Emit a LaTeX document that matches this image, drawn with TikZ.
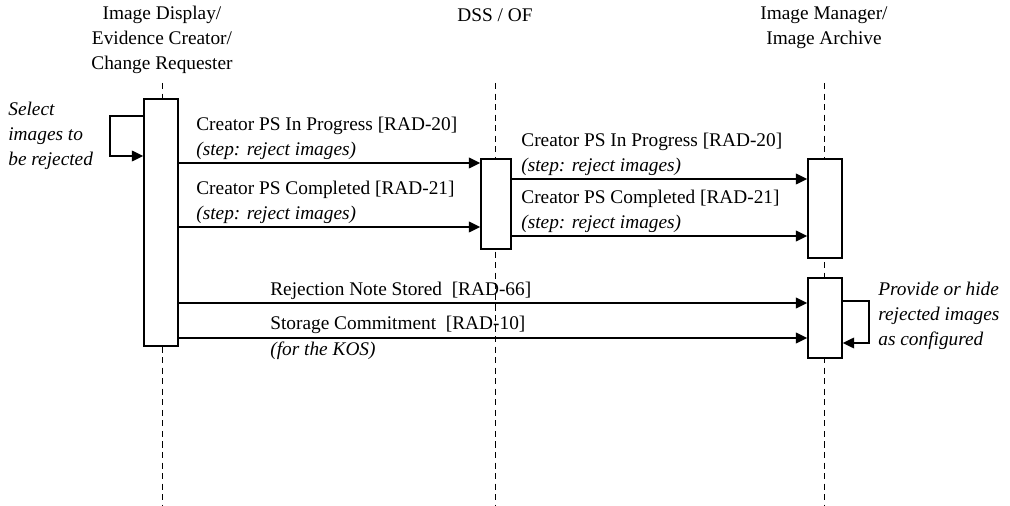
\documentclass[tikz,border=0pt]{standalone}
\usepackage{fontspec}
\setmainfont{Liberation Serif}
\usepackage{tikz}
\usetikzlibrary{arrows.meta, positioning}

\begin{document}
\begin{tikzpicture}[x=0.02cm, y=-0.02cm,
  actor/.style={align=center, inner sep=0pt, font=\fontsize{11pt}{14.4pt}\selectfont},
  actbox/.style={rectangle, draw, fill=white, line width=0.8pt,
    inner sep=0pt, minimum width=0.68cm},
  life/.style={dash pattern=on 3.5pt off 2.5pt, line width=0.5pt},
  msg/.style={-{Triangle[length=6.5pt,width=6pt]}, line width=1.1pt},
  lbl/.style={anchor=south west, inner sep=0pt, yshift=2pt, align=left,
    font=\fontsize{11pt}{14pt}\selectfont},
  note/.style={anchor=west, align=left, inner sep=0pt,
    font=\fontsize{11pt}{14.4pt}\selectfont\itshape}
]
\useasboundingbox (0,0) rectangle (1010,506);

% actors
\node[actor] (hdid) at (162,40) {Image Display/\\Evidence Creator/\\Change Requester};
\node[actor] (hddss) at (495,15) {DSS / OF};
\node[actor] (hdim) at (824,28) {Image Manager/\\Image Archive};

% lifelines
\draw[life] (hdid |- 0,83) -- (hdid |- 0,506);
\draw[life] (hddss |- 0,83) -- (hddss |- 0,506);
\draw[life] (hdim |- 0,83) -- (hdim |- 0,506);

% activation boxes
\node[actbox, minimum height=4.94cm] (idbox) at (161,222.5) {};
\node[actbox, minimum width=0.6cm, minimum height=1.8cm] (dssbox) at (496,204) {};
\node[actbox, minimum height=1.98cm] (imbox) at (825,208.5) {};
\node[actbox, minimum height=1.6cm] (imstore) at (825,318) {};

% self messages
\draw[msg] (idbox.west |- 0,116) -- (110,116) |- (idbox.west |- 0,156);
\node[note] (selnote) at (8,136) {Select\\images to\\be rejected};
\draw[msg] (imstore.east |- 0,301) -- (869,301) |- (imstore.east |- 0,343);
\node[note] (provnote) at (878,316) {Provide or hide\\rejected images\\as configured};

% messages to DSS / OF
\draw[msg] (idbox.east |- 0,163) -- (dssbox.west |- 0,163);
\node[lbl] (lprog1) at (196,163) {Creator PS In Progress [RAD-20]\\\textit{(step: reject images)}};
\draw[msg] (idbox.east |- 0,227) -- (dssbox.west |- 0,227);
\node[lbl] (ldone1) at (196,227) {Creator PS Completed [RAD-21]\\\textit{(step: reject images)}};

% forwarded by DSS / OF
\draw[msg] (dssbox.east |- 0,179) -- (imbox.west |- 0,179);
\node[lbl] (lprog2) at (521,179) {Creator PS In Progress [RAD-20]\\\textit{(step: reject images)}};
\draw[msg] (dssbox.east |- 0,236) -- (imbox.west |- 0,236);
\node[lbl] (ldone2) at (521,236) {Creator PS Completed [RAD-21]\\\textit{(step: reject images)}};

% straight to the archive
\draw[msg] (idbox.east |- 0,303) -- (imstore.west |- 0,303);
\node[lbl] (lrej) at (270,303) {Rejection Note Stored~~[RAD-66]};
\draw[msg] (idbox.east |- 0,338) -- (imstore.west |- 0,338);
\node[lbl] (lcommit) at (270,338) {Storage Commitment~~[RAD-10]};
\node[anchor=north west, inner sep=0pt, yshift=-2pt,
  font=\fontsize{11pt}{14pt}\selectfont\itshape] (lkos) at (270,338) {(for the KOS)};

\end{tikzpicture}
\end{document}
